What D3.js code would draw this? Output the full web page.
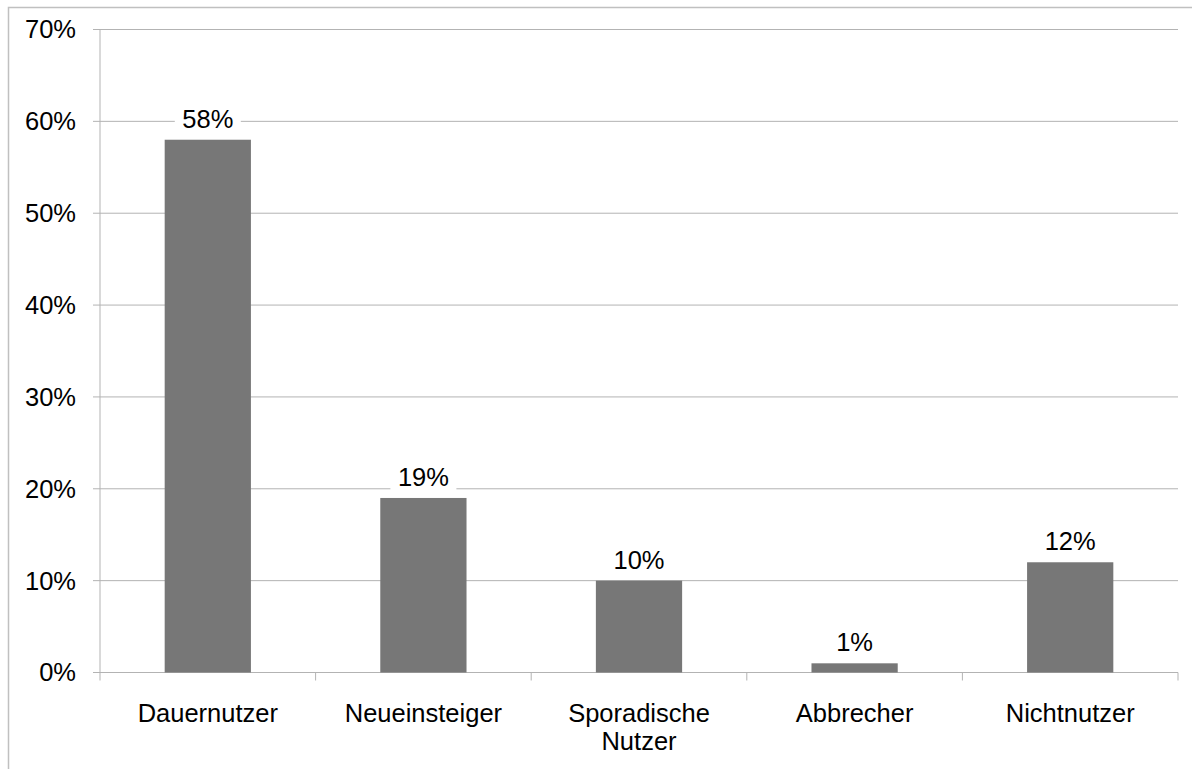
<!DOCTYPE html>
<html>
<head>
<meta charset="utf-8">
<script src="https://cdn.jsdelivr.net/npm/d3@7"></script>
<style>
  body { margin: 0; background: #fff; }
  svg { display: block; font-family: "Liberation Sans", Arial, sans-serif; }
</style>
</head>
<body>
<svg width="1192" height="769"></svg>
<script>
// Daten
const categories = ["Dauernutzer", "Neueinsteiger", "Sporadische\nNutzer", "Abbrecher", "Nichtnutzer"];
const values = [58, 19, 10, 1, 12];
const yTicks = [0, 10, 20, 30, 40, 50, 60, 70];

const width = 1192, height = 769;
const margin = { top: 29.5, right: 14, bottom: 96.5, left: 100 };
const fontSize = 25.5;

const svg = d3.select("svg");

// Rahmen um das Diagramm (geht über den Bildrand hinaus)
svg.append("rect")
  .attr("x", 8.5).attr("y", 7.5)
  .attr("width", 1300).attr("height", 900)
  .attr("fill", "none")
  .attr("stroke", "#c0c0c0")
  .attr("stroke-width", 1.5);

const x = d3.scaleBand()
  .domain(categories)
  .range([margin.left, width - margin.right])
  .paddingInner(0.6)
  .paddingOuter(0.3);

const y = d3.scaleLinear()
  .domain([0, 70])
  .range([height - margin.bottom, margin.top]);

// Gitterlinien
svg.append("g")
  .selectAll("line")
  .data(yTicks)
  .join("line")
  .attr("x1", margin.left - 7)
  .attr("x2", width - margin.right)
  .attr("y1", d => y(d))
  .attr("y2", d => y(d))
  .attr("stroke", "#b3b3b3")
  .attr("stroke-width", 1);

// Y-Achse
svg.append("line")
  .attr("x1", margin.left).attr("x2", margin.left)
  .attr("y1", y(70)).attr("y2", y(0))
  .attr("stroke", "#b3b3b3");

svg.append("g")
  .selectAll("text")
  .data(yTicks)
  .join("text")
  .attr("x", 76)
  .attr("y", d => y(d))
  .attr("dy", "0.35em")
  .attr("text-anchor", "end")
  .attr("font-size", fontSize)
  .attr("fill", "#000")
  .text(d => d + "%");

// X-Achse Ticks zwischen Kategorien
const tickXs = d3.range(categories.length + 1).map(i => margin.left + i * (width - margin.left - margin.right) / categories.length);
svg.append("g")
  .selectAll("line")
  .data(tickXs)
  .join("line")
  .attr("x1", d => d).attr("x2", d => d)
  .attr("y1", y(0)).attr("y2", y(0) + 8)
  .attr("stroke", "#b3b3b3");

// Balken
svg.append("g")
  .selectAll("rect")
  .data(values)
  .join("rect")
  .attr("x", (d, i) => x(categories[i]))
  .attr("y", d => y(d))
  .attr("width", x.bandwidth())
  .attr("height", d => y(0) - y(d))
  .attr("fill", "#777777");

// Werte über den Balken, mit weißem Hintergrund
const labels = svg.append("g")
  .selectAll("g")
  .data(values)
  .join("g")
  .attr("transform", (d, i) => `translate(${x(categories[i]) + x.bandwidth() / 2},${y(d) - 21})`);

labels.append("rect")
  .attr("x", -33).attr("y", -15)
  .attr("width", 66).attr("height", 30)
  .attr("fill", "#fff");

labels.append("text")
  .attr("text-anchor", "middle")
  .attr("dy", "0.35em")
  .attr("font-size", fontSize)
  .attr("fill", "#000")
  .text(d => d + "%");

// Kategorienamen
svg.append("g")
  .selectAll("text")
  .data(categories)
  .join("text")
  .attr("text-anchor", "middle")
  .attr("font-size", fontSize)
  .attr("fill", "#000")
  .attr("transform", d => `translate(${x(d) + x.bandwidth() / 2},${y(0) + 41})`)
  .each(function (d) {
    d.split("\n").forEach((line, j) => {
      d3.select(this).append("tspan")
        .attr("x", 0)
        .attr("dy", j === 0 ? "0.35em" : 28)
        .text(line);
    });
  });
</script>
</body>
</html>
